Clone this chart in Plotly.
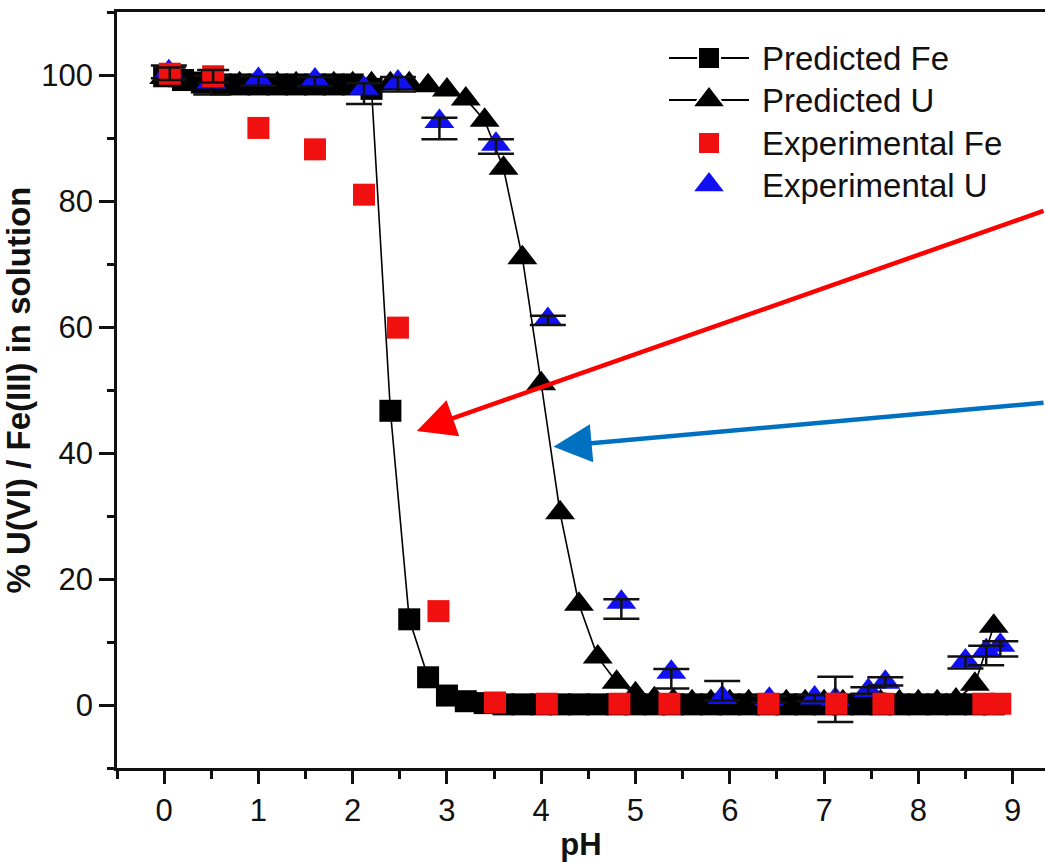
import plotly.graph_objects as go

# ---------------- data ----------------
pred_ph = [0.0, 0.2, 0.4, 0.6, 0.8, 1.0, 1.2, 1.4, 1.6, 1.8, 2.0, 2.2, 2.4, 2.6, 2.8,
           3.0, 3.2, 3.4, 3.6, 3.8, 4.0, 4.2, 4.4, 4.6, 4.8, 5.0, 5.2, 5.4, 5.6, 5.8,
           6.0, 6.2, 6.4, 6.6, 6.8, 7.0, 7.2, 7.4, 7.6, 7.8, 8.0, 8.2, 8.4, 8.6, 8.8]
pred_fe = [99.8, 99.2, 98.8, 98.5, 98.5, 98.5, 98.5, 98.5, 98.5, 98.5, 98.5, 97.8, 46.7, 13.6, 4.4,
           1.5, 0.6, 0.3, 0.1, 0.1, 0.1, 0.1, 0.1, 0.1, 0.1, 0.1, 0.1, 0.1, 0.1, 0.1,
           0.1, 0.1, 0.1, 0.1, 0.1, 0.1, 0.1, 0.1, 0.1, 0.1, 0.1, 0.1, 0.1, 0.1, 0.1]
pred_u = [99.6, 99.1, 98.7, 98.6, 98.6, 98.6, 98.6, 98.6, 98.6, 98.6, 98.6, 98.6, 98.6, 98.6, 98.3,
          97.6, 96.2, 92.8, 85.2, 71.0, 51.0, 30.5, 16.0, 7.6, 3.6, 1.8, 1.0, 0.7, 0.5, 0.5,
          0.5, 0.5, 0.5, 0.5, 0.5, 0.5, 0.5, 0.5, 0.5, 0.5, 0.5, 0.5, 0.8, 3.3, 12.5]

exp_fe_ph = [0.06, 0.52, 1.0, 1.6, 2.12, 2.48, 2.91, 3.51, 4.06, 4.83, 5.36, 6.41, 7.13, 7.63, 8.69, 8.87]
exp_fe = [100.2, 99.8, 91.6, 88.2, 81.0, 59.9, 14.9, 0.4, 0.2, 0.2, 0.2, 0.2, 0.2, 0.2, 0.2, 0.2]
# error bars only reported for the first two Fe points
exp_fe_err_ph = [0.06, 0.52]
exp_fe_err_val = [100.2, 99.8]
exp_fe_err = [1.0, 1.0]

exp_u_ph = [0.05, 0.5, 1.0, 1.6, 2.12, 2.48, 2.92, 3.52, 4.07, 4.85, 5.38, 5.92, 6.42, 6.9, 7.12,
            7.47, 7.65, 8.5, 8.72, 8.87]
exp_u = [100.5, 98.9, 99.3, 99.2, 97.9, 98.9, 92.6, 89.0, 61.2, 16.3, 5.2, 1.2, 0.9, 1.1, 0.9,
         2.3, 3.6, 7.0, 8.6, 9.5]
exp_u_err_plus = [1.0, 1.0, 0.5, 0.5, 0.8, 0.8, 0.6, 0.8, 0.6, 0.5, 0.5, 2.6, 0.5, 0.5, 3.6,
                  0.5, 0.8, 0.7, 0.8, 0.6]
exp_u_err_minus = [1.0, 2.0, 1.0, 1.0, 2.5, 1.5, 2.8, 1.5, 0.9, 2.6, 2.6, 0.5, 0.5, 0.5, 3.6,
                   0.5, 0.5, 1.2, 2.3, 1.8]

x_ticks = [0, 1, 2, 3, 4, 5, 6, 7, 8, 9]
y_ticks = [0, 20, 40, 60, 80, 100]

legend_labels = ["Predicted Fe", "Predicted U", "Experimental Fe", "Experimental U"]

# arrows: (tip_x, tip_y, tail_x, tail_y) in data units
red_arrow = (2.68, 43.5, 9.344, 78.5)
blue_arrow = (4.13, 41.0, 9.344, 48.0)

# ---------------- styles ----------------
FONT = "Liberation Sans, Arial, sans-serif"
INK = "#111"
RED = "#F01010"
BLUE = "#1010F0"
SQ = 22
TRI = 26

fig = go.Figure()

fig.add_trace(go.Scatter(
    x=pred_ph, y=pred_fe, mode="lines+markers", name="Predicted Fe",
    line=dict(color="black", width=1.6),
    marker=dict(symbol="square", size=SQ, color="black", opacity=1),
))
fig.add_trace(go.Scatter(
    x=pred_ph, y=pred_u, mode="lines+markers", name="Predicted U",
    line=dict(color="black", width=1.6),
    marker=dict(symbol="triangle-up", size=TRI, color="black", opacity=1),
))
fig.add_trace(go.Scatter(
    x=exp_u_ph, y=exp_u, mode="markers", name="Experimental U",
    marker=dict(symbol="triangle-up", size=TRI, color=BLUE, opacity=1),
))
fig.add_trace(go.Scatter(
    x=exp_u_ph, y=exp_u, mode="markers", hoverinfo="skip",
    marker=dict(color="rgba(0,0,0,0)", size=2),
    error_y=dict(type="data", array=exp_u_err_plus, arrayminus=exp_u_err_minus,
                 color=INK, thickness=2.5, width=18, symmetric=False),
))
fig.add_trace(go.Scatter(
    x=exp_fe_ph, y=exp_fe, mode="markers", name="Experimental Fe",
    marker=dict(symbol="square", size=SQ, color=RED, opacity=1),
))
fig.add_trace(go.Scatter(
    x=exp_fe_err_ph, y=exp_fe_err_val, mode="markers", hoverinfo="skip",
    marker=dict(color="rgba(0,0,0,0)", size=2),
    error_y=dict(type="data", array=exp_fe_err, color=INK, thickness=2.5, width=16),
))

# ---- legend drawn on an overlay axis measured in page pixels ----
leg_rows = [58, 100, 143, 185]
leg_line = [669, 749]
leg_mark_x = 709
leg_text_x = 760
for r in leg_rows[:2]:
    fig.add_trace(go.Scatter(
        x=[leg_line[0], leg_line[1]], y=[r, r], mode="lines",
        line=dict(color="black", width=2), xaxis="x2", yaxis="y2", hoverinfo="skip"))
fig.add_trace(go.Scatter(
    x=[leg_mark_x] * 4, y=leg_rows, mode="markers", xaxis="x2", yaxis="y2", hoverinfo="skip",
    marker=dict(symbol=["square", "triangle-up", "square", "triangle-up"],
                size=[SQ, TRI + 3, SQ, TRI + 3],
                color=["black", "black", RED, BLUE], opacity=1,
                line=dict(width=2, color="white"))))
for row, lab in zip(leg_rows, legend_labels):
    fig.add_annotation(x=leg_text_x, y=row, xref="x2", yref="y2", text=lab, showarrow=False,
                       xanchor="left", yanchor="middle",
                       font=dict(family=FONT, size=33, color=INK))

for (tx, ty, sx, sy), col in [(red_arrow, "#FF0000"), (blue_arrow, "#0070C0")]:
    fig.add_annotation(
        x=tx, y=ty, ax=sx, ay=sy, xref="x", yref="y", axref="x", ayref="y",
        showarrow=True, arrowhead=2, arrowsize=1.7, arrowwidth=4.5, arrowcolor=col,
        text="",
    )

axis_font = dict(family=FONT, size=31, color=INK)

fig.update_layout(
    template="none",
    width=1045, height=862,
    margin=dict(l=117, r=0, t=12, b=94, pad=0, autoexpand=False),
    paper_bgcolor="white", plot_bgcolor="white",
    showlegend=False,
    xaxis=dict(
        automargin=False,
        range=[-0.5, 9.344], tickvals=x_ticks, ticktext=[str(v) for v in x_ticks],
        ticks="outside", ticklen=13, tickwidth=2.5, tickcolor=INK,
        minor=dict(dtick=0.5, tick0=-0.5, ticks="outside", ticklen=8, tickwidth=2.5, tickcolor=INK),
        showline=True, linewidth=2.5, linecolor=INK, mirror=True,
        showgrid=False, zeroline=False, tickfont=axis_font,
        title=dict(text="<b>pH</b>", font=dict(family=FONT, size=31, color=INK), standoff=16),
    ),
    yaxis=dict(
        automargin=False,
        range=[-10, 110], tickvals=y_ticks, ticktext=[str(v) for v in y_ticks],
        ticks="outside", ticklen=15, tickwidth=2.5, tickcolor=INK,
        minor=dict(dtick=10, tick0=0, ticks="outside", ticklen=7, tickwidth=2.5, tickcolor=INK),
        showline=True, linewidth=2.5, linecolor=INK, mirror=False,
        showgrid=False, zeroline=False, tickfont=axis_font,
        title=dict(text="<b>% U(VI) / Fe(III) in solution</b>",
                   font=dict(family=FONT, size=33, color=INK), standoff=3),
    ),
    xaxis2=dict(overlaying="x", anchor="y2", range=[117, 1045], visible=False, fixedrange=True,
                automargin=False),
    yaxis2=dict(overlaying="y", anchor="x2", range=[768, 12], visible=False, fixedrange=True,
                automargin=False),
)

fig.write_html("out.html")
